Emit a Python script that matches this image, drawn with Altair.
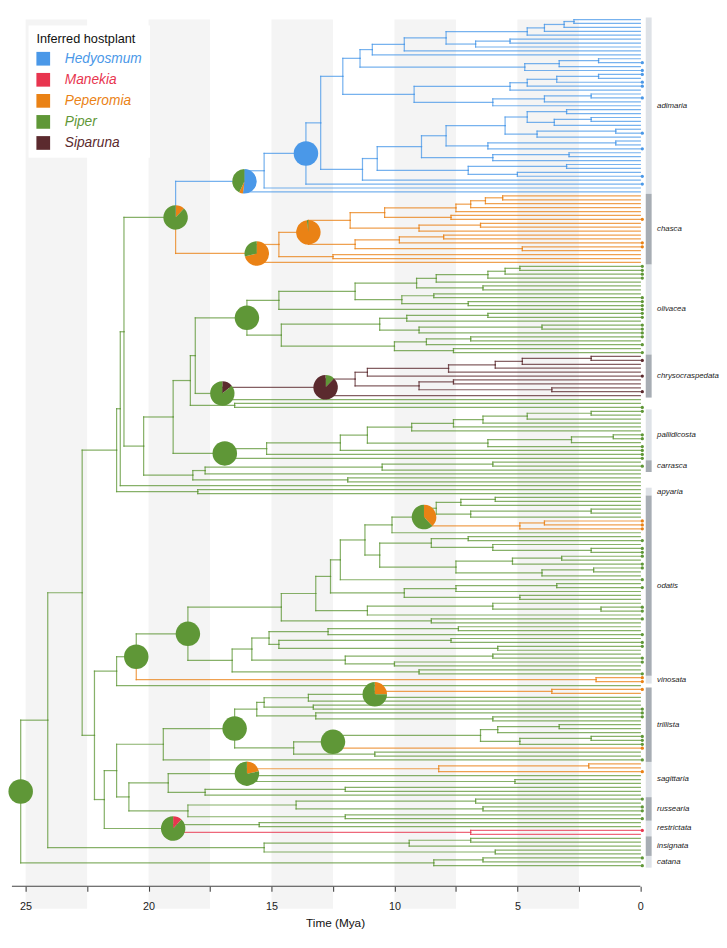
import re
import math
import altair as alt
import pandas as pd

# ---------------- data ----------------
HOSTS = ["Hedyosmum", "Manekia", "Peperomia", "Piper", "Siparuna"]
HOST_COLORS = ["#4A98E8", "#E8354F", "#EA8215", "#5F9737", "#5B2A2E"]
CODE = {"h": "Hedyosmum", "m": "Manekia", "p": "Peperomia", "g": "Piper", "s": "Siparuna"}

# tree written as newick-like strings: node label = age (Mya) + optional host code
# + optional '*' (tip dot) + optional '@pie'
# --- Hedyosmum clade (adimaria)
NTOP = "((((,)2.7,)3.1,)3.9,)4.6"
N481 = "((,)5.3,)6.7"
NN = f"({NTOP},{N481})7.9"
MM = f"({NN},)9.6"
LL = f"({MM},)10.9"
XX = "(((,*)1.7,)3.3,*)4.7"
JJ = f"({LL},{XX})11.4"
K1 = "((((*,)1.7,*)3.4,*)4.6,)5.3"
KB = "(((,*)2.0,)3.9,)6.0"
KK = f"({K1},{KB})9.2"
HH = f"({JJ},{KK})12.1"
I4A = "((,)3.0,((,)2.0,)3.5)4.6"
I4B = "((,*)1.0,)4.2"
I4 = f"({I4A},{I4B})5.5"
I5 = "((,)1.0,*)6.2"
I3 = f"({I4},{I5})7.9"
I2B = "((,)2.9,)6.0"
I2 = f"({I3},{I2B})8.9"
I1B = "((,)3.0,(,*)5.0)7.0"
I1 = f"({I2},{I1B})10.7"
II = f"({I1},)11.3"
GG = f"({HH},{II})13.0"
FF = f"({GG},*)13.6h@F"
EE = f"({FF},)15.3"
CC = f"({EE},)16.1h@C"
# --- Peperomia clade (chasca)
S1A = "((((,)5.6,)6.3,)6.9,)7.5"
S1B = "(,*)7.7"
S1 = f"({S1A},{S1B})10.4"
S2 = "((,)6.5,)9.0"
SS = f"({S1},{S2})11.8"
OT = "(((,)8.0,*)9.8,(*,)4.8)11.6"
QQ = f"({SS},{OT})13.5@Q"
RR = "(,)12.5"
PP = f"({QQ},{RR})14.7"
OO = f"({PP},)15.6p@O"
BB = f"({CC},{OO})18.9@B"
# --- olivacea
OLA1A = "((((*,*)4.9,*)5.5,*)6.2,)8.3"
OLA1 = f"({OLA1A},(,)6.4)9.1"
OLA2 = "((,*)8.4,(*,*)7.0)9.7"
OLA = f"({OLA1},{OLA2})11.6"
OL1 = f"({OLA},*)14.7"
OL2A = "(((*,*)6.2,)9.5,((*,*)4.0,*)9.0)10.6"
OL2B = "(((*,)6.9,*)8.7,(,*)7.6)10.0"
OL2 = f"({OL2A},{OL2B})14.6"
OLV = f"({OL1},{OL2})16.0@OL"
# --- chrysocraspedata (Siparuna)
BR1 = "((((,*)2.0,)4.8,)5.9,)7.8"
CH2A = f"({BR1},*)11.1"
CH2C = "((,)7.6,(,*)3.6)9.0"
CH2B = f"({CH2A},{CH2C})11.6"
CH2 = f"({CH2B},)12.8s@CH2"
CHR = f"({CH2},)17.0@CH"
N236 = "(,*)16.5"
X1 = f"({OLV},{CHR})18.1"
X2 = f"({X1},{N236})18.3"
# --- pallidicosta / carrasca / apyaria
PA1 = "((((*,)2.0,)4.6,)6.4,)7.6"
PA2 = f"({PA1},)9.3"
PA3B = "(((*,*)1.1,)2.8,*)6.2"
PA3 = f"({PA2},{PA3B})11.1"
PL2 = f"({PA3},*)12.2"
PL1 = f"({PL2},*)15.2"
PAL = f"({PL1},*)16.9@PAL"
X3 = f"({X2},{PAL})19.0"
CR1 = "(,*)6.0"
CR2 = f"({CR1},)10.5"
CR3 = f"({CR2},)17.7"
CR5 = "(,)11.9"
CR4 = f"({CR3},{CR5})18.2"
Y3 = f"({X3},{CR4})20.2"
G1 = f"({BB},{Y3})21.0"
Y2 = f"({G1},)21.15"
APY = "(,)18.0"
Y1 = f"({Y2},{APY})21.3"
# --- odatis / vinosata
ODG1 = "((,)5.9,)7.3"
ODG2 = "((,)2.0,)6.9"
ODG = f"({ODG1},{ODG2})8.3"
ODO = "((*,*)3.9,*)4.9p"
ODP = f"({ODG},{ODO})8.8@ODP"
T1H = f"({ODP},)10.1"
T1I1 = "((,*)7.0,(,(*,*)2.0)6.0)8.5"
T1I2 = "(((*,)3.2,*)5.2,((*,)1.9,)4.0)7.5"
T1I = f"({T1I1},{T1I2})10.6"
T1G = f"({T1H},{T1I})11.2"
T1E = f"({T1G},*)12.2"
T1F = "(((,*)3.4,)7.5,(,)4.9)9.6"
T1C = f"({T1E},{T1F})12.6"
T1D = "((,(*,*)1.6)6.0,)11.1"
T1A = f"({T1C},{T1D})13.2"
T1B = "(*,)8.5"
T1 = f"({T1A},{T1B})14.6"
T2E = "((,)7.4,*)12.7"
T2F = "((,*)7.7,(*,)5.8)14.7"
T2C = f"({T2E},{T2F})15.1"
T2D = "((,*)6.0,(*,)10.0)12.0"
T2A = f"({T2C},{T2D})15.8"
T2 = f"({T2A},(,*)9.0)16.6"
TT = f"({T1},{T2})18.4@T"
VIN = "(*,*)1.8p"
UU = f"({TT},{VIN})20.5@U"
VV = f"({UU},)21.3"
# --- trillista
TROP = "((*,)3.6p,)10.8@TROP"
TR1C = f"({TROP},)13.5"
TR1D = "(,*)13.3"
TR1A = f"({TR1C},{TR1D})15.3"
TR1B = "(*,(*,)6.0)13.2"
TR1 = f"({TR1A},{TR1B})15.6"
TRG1 = "((,)3.3,)5.8"
TRG2 = "((*,*)2.0,*)4.9"
TRG = f"({TRG1},{TRG2})6.5"
TRO = f"({TRG},p*)12.5@TRO"
TR3 = "(,)10.8"
TR2 = f"({TRO},{TR3})14.1"
TRP = f"({TR1},{TR2})16.5@TRP"
N162 = f"({TRP},*)19.4"
# --- sagittaria / russearia / restrictata
SAGO = "((,)2.1,*)8.2p"
SAGG = "(,(,)5.1)15.6"
SAG = f"({SAGO},{SAGG})16.0@SAG"
N207 = "((,)12.0,)17.7"
N167 = f"({SAG},{N207})19.2"
N298 = "((*,)6.7,(*,*)6.4)14.0"
N349 = "(,*)12.0"
N189 = f"({N298},{N349})18.4"
N127 = f"({N167},{N189})20.8"
N115 = f"({N162},{N127})21.3"
N261 = "(,)15.5"
RED = "(*,)6.9m"
RES = f"({N261},{RED})19.0@RES"
N103 = f"({N115},{RES})21.8"
WW = f"({VV},{N103})22.2"
ZZ = f"({Y1},{WW})22.7"
INS = "(((,)6.9,)9.4,(,)5.9)15.3"
AA = f"({ZZ},{INS})24.1"
CAT = "((*,)6.4,*)8.4"
TREE = f"({AA},{CAT})25.2g@root"

# pie slices, clockwise from 12 o'clock: (host, fraction)
PIE_SLICES = {
    "root": [("Piper", 1)],
    "B": [("Peperomia", 0.12), ("Piper", 0.88)],
    "C": [("Hedyosmum", 0.52), ("Peperomia", 0.05), ("Piper", 0.43)],
    "F": [("Hedyosmum", 1)],
    "O": [("Peperomia", 0.71), ("Piper", 0.29)],
    "Q": [("Peperomia", 0.98), ("Piper", 0.02)],
    "OL": [("Piper", 1)],
    "CH": [("Siparuna", 0.14), ("Piper", 0.86)],
    "CH2": [("Piper", 0.12), ("Siparuna", 0.88)],
    "PAL": [("Piper", 1)],
    "ODP": [("Peperomia", 0.38), ("Piper", 0.62)],
    "T": [("Piper", 1)],
    "U": [("Piper", 1)],
    "TRP": [("Piper", 1)],
    "TRO": [("Piper", 1)],
    "TROP": [("Peperomia", 0.25), ("Piper", 0.75)],
    "SAG": [("Peperomia", 0.22), ("Piper", 0.78)],
    "RES": [("Manekia", 0.12), ("Piper", 0.88)],
}

GROUP_NAMES = ["adimaria", "chasca", "olivacea", "chrysocraspedata", "pallidicosta",
               "carrasca", "apyaria", "odatis", "vinosata", "trillista", "sagittaria",
               "russearia", "restrictata", "insignata", "catana"]
GROUP_FIRST = [0, 45, 63, 86, 100, 113, 120, 122, 168, 171, 190, 199, 205, 209, 214]
GROUP_LAST = [44, 62, 85, 96, 112, 115, 121, 167, 169, 189, 198, 204, 208, 213, 216]
GROUP_SHADE = ["light", "dark"] * 7 + ["light"]

BAND_START = [25, 20, 15, 10, 5]
TICK_VALUES = [0, 2.5, 5, 7.5, 10, 12.5, 15, 17.5, 20, 22.5, 25]

AGE_MAX, AGE_MIN = 25.557, -3.0
PX_PER_MYA = 25.12
Y_MAX = 221.25
PX_PER_TIP = 4.0
DOT_AGE, BAR_A, BAR_B, LABEL_AGE = -0.08, -0.22, -0.46, -0.68

# ---------------- tree layout ----------------
def parse(s):
    pos = [0]

    def node():
        ch = []
        if s[pos[0]] == "(":
            pos[0] += 1
            ch.append(node())
            while s[pos[0]] == ",":
                pos[0] += 1
                ch.append(node())
            pos[0] += 1
        st = pos[0]
        while pos[0] < len(s) and s[pos[0]] not in ",)":
            pos[0] += 1
        return {"ch": ch, "lab": s[st:pos[0]]}

    return node()


LAB = re.compile(r"([0-9.]*)([hmpgs]?)(\*?)(?:@(\w+))?$")
segs, tips, pie_nodes = [], [], []
counter = [0]


def layout(nd, pstate):
    m = LAB.match(nd["lab"])
    age = float(m.group(1)) if m.group(1) else 0.0
    state = CODE[m.group(2)] if m.group(2) else pstate
    nd["age"], nd["state"] = age, state
    if not nd["ch"]:
        nd["y"] = counter[0]
        counter[0] += 1
        tips.append({"x": DOT_AGE, "y": nd["y"], "host": state, "dot": bool(m.group(3))})
    else:
        for c in nd["ch"]:
            layout(c, state)
        nd["y"] = (nd["ch"][0]["y"] + nd["ch"][-1]["y"]) / 2
        for c in nd["ch"]:
            segs.append(dict(x=age, x2=age, y=nd["y"], y2=c["y"], host=c["state"]))
            segs.append(dict(x=age, x2=c["age"], y=c["y"], y2=c["y"], host=c["state"]))
    if m.group(4):
        pie_nodes.append((m.group(4), age, nd["y"]))


root = parse(TREE)
layout(root, "Piper")
if counter[0] != 217:
    raise SystemExit(f"tip count {counter[0]}")

seg_df = pd.DataFrame(segs)
tip_df = pd.DataFrame([t for t in tips if t["dot"]])

pie_rows = []
for name, age, y in pie_nodes:
    cum = 0.0
    for host, f in PIE_SLICES[name]:
        pie_rows.append(dict(x=age, y=y, host=host, t1=cum * 2 * math.pi, t2=(cum + f) * 2 * math.pi))
        cum += f
pie_df = pd.DataFrame(pie_rows)

group_df = pd.DataFrame({
    "name": GROUP_NAMES,
    "x": [BAR_A] * len(GROUP_NAMES),
    "x2": [BAR_B] * len(GROUP_NAMES),
    "y": [f - 0.5 for f in GROUP_FIRST],
    "y2": [l + 0.5 for l in GROUP_LAST],
    "ly": [(f + l) / 2 for f, l in zip(GROUP_FIRST, GROUP_LAST)],
    "lx": [LABEL_AGE] * len(GROUP_NAMES),
    "shade": GROUP_SHADE,
})
band_df = pd.DataFrame({"x": BAND_START, "x2": [b - 2.5 for b in BAND_START],
                        "y": [0] * 5, "y2": [227] * 5})
axis_df = pd.DataFrame({"x": [AGE_MAX], "x2": [0], "y": [Y_MAX]})

# ---------------- chart ----------------
W = round((AGE_MAX - AGE_MIN) * PX_PER_MYA)
H = round(Y_MAX * PX_PER_TIP)
FONT = "Liberation Sans"

xs = alt.Scale(domain=[AGE_MAX, AGE_MIN], nice=False, zero=False)
ys = alt.Scale(domain=[0, Y_MAX], reverse=True, nice=False, zero=False)
xaxis = alt.Axis(values=TICK_VALUES, labelExpr="datum.value % 5 == 0 ? datum.label : ''",
                 title="Time (Mya)", grid=False, domain=False, tickColor="#444",
                 tickSize=5, tickWidth=1.1, labelFontSize=11, labelColor="#222",
                 labelFont=FONT, titleFont=FONT, titleFontSize=12, titleFontWeight="normal",
                 titleColor="#111", labelPadding=10, titlePadding=6, labelOverlap=False,
                 labelFlush=False, zindex=1, titleX=330)


def X(f="x"):
    return alt.X(f"{f}:Q", scale=xs, axis=xaxis)


def Y(f="y"):
    return alt.Y(f"{f}:Q", scale=ys, axis=None)


# the legend-less channels (stroke, fill) list the hosts in another order, so that
# Vega-Lite does not merge their (disabled) legends into the colour legend
stroke_scale = alt.Scale(domain=HOSTS[::-1], range=HOST_COLORS[::-1])
fill_scale = alt.Scale(domain=HOSTS[1:] + HOSTS[:1], range=HOST_COLORS[1:] + HOST_COLORS[:1])
color_scale = alt.Scale(domain=HOSTS, range=HOST_COLORS)

bands = alt.Chart(band_df).mark_rect(color="#f4f4f4").encode(
    x=X(), x2="x2", y=Y(), y2="y2")

tree = alt.Chart(seg_df).mark_rule(strokeWidth=1.25, opacity=0.75, strokeCap="square").encode(
    x=X(), x2="x2", y=Y(), y2="y2",
    stroke=alt.Stroke("host:N", scale=stroke_scale, legend=None))

bars_light = alt.Chart(group_df).transform_filter("datum.shade == 'light'").mark_rect(
    color="#dee2e7").encode(x=X(), x2="x2", y=Y(), y2="y2")
bars_dark = alt.Chart(group_df).transform_filter("datum.shade == 'dark'").mark_rect(
    color="#a7adb4").encode(x=X(), x2="x2", y=Y(), y2="y2")

labels = alt.Chart(group_df).mark_text(align="left", baseline="middle", fontStyle="italic",
                                       fontSize=8, font=FONT, color="#222").encode(
    x=X("lx"), y=Y("ly"), text="name:N")

dots = alt.Chart(tip_df).mark_circle(size=11, opacity=1).encode(
    x=X(), y=Y(), fill=alt.Fill("host:N", scale=fill_scale, legend=None))

legend = alt.Legend(title="Inferred hostplant", orient="none", legendX=17, legendY=6,
                    symbolType="square", symbolSize=196, symbolStrokeWidth=0, symbolOpacity=1,
                    labelFontStyle="italic", labelFontSize=14, labelFont=FONT, titleFont=FONT,
                    titleFontSize=13, titleFontWeight="normal", titleColor="#111",
                    fillColor="white", padding=8, rowPadding=7.5, labelOffset=15,
                    titlePadding=6,
                    labelColor=alt.ExprRef(expr="scale('color', datum.value)"))

pies = alt.Chart(pie_df).mark_arc(radius=12.5, strokeWidth=0).encode(
    x=X(), y=Y(),
    theta=alt.Theta("t1:Q", scale=None), theta2="t2",
    color=alt.Color("host:N", scale=color_scale, legend=legend))

axis_line = alt.Chart(axis_df).mark_rule(color="#444", strokeWidth=1.2).encode(
    x=X(), x2="x2", y=Y())

chart = alt.layer(bands, tree, bars_light, bars_dark, dots, labels, pies, axis_line).properties(
    width=W, height=H, padding=0
).configure_view(strokeWidth=0)

chart.save("out.html", embed_options={"renderer": "svg", "actions": False})
